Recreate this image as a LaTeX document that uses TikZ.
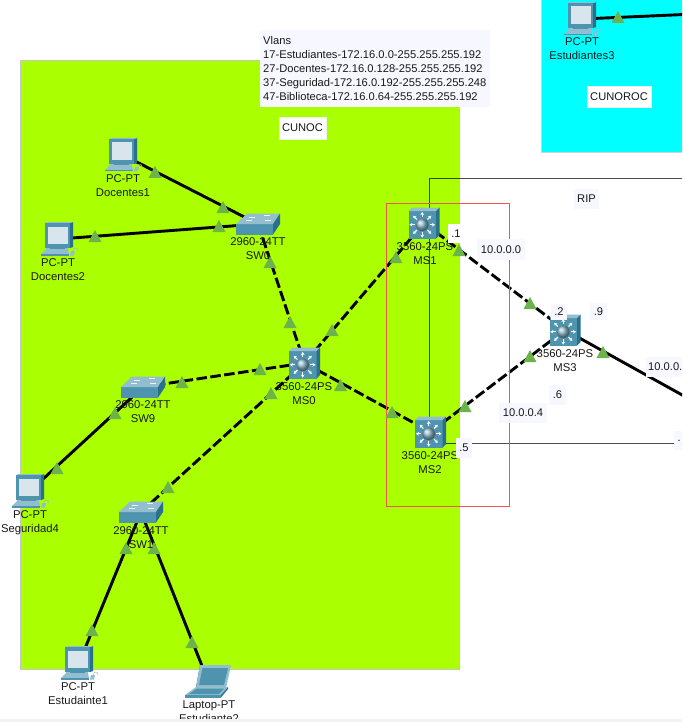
\documentclass[tikz,border=0pt]{standalone}
\usepackage{fontspec}
\setmainfont{Liberation Sans}
\usetikzlibrary{arrows.meta}
\definecolor{zoneg}{HTML}{AAFF00}
\definecolor{zonec}{HTML}{00FFFF}
\definecolor{tagbg}{HTML}{F7F8FF}
\definecolor{lamp}{HTML}{6DB34C}
\definecolor{icoF}{HTML}{4F94AE}
\definecolor{icoT}{HTML}{92BED0}
\definecolor{icoS}{HTML}{2A6F8C}
\definecolor{icoL}{HTML}{D8E5EC}
\definecolor{redbox}{HTML}{F0554E}
\tikzset{
  x=1pt,y=-1pt,
  anchorbox/.style={inner sep=0pt,minimum size=1pt,draw=none},
  lnk/.style={line width=2.9pt,black},
  lnkd/.style={lnk,dash pattern=on 10.5pt off 3.5pt},
  thinl/.style={line width=1pt,black,opacity=.7},
  devlabel/.style={font=\fontsize{11.3}{14}\selectfont,align=center,inner sep=0pt,text=black!90},
  tagbox/.style={fill=tagbg,font=\fontsize{11.15}{14}\selectfont,inner sep=0pt,text=black!90},
  tagwhite/.style={tagbox,fill=white,draw=black!6},
  pcicon/.pic={
    \fill[icoT] (-18,15) -- (-13,10) -- (9,10) -- (10,15) -- cycle;
    \fill[icoF] (-18,15) rectangle (10,16.5);
    \fill[icoT] (-13,8) rectangle (9,12);
    \fill[icoF] (-9,8) rectangle (6,10);
    \fill[icoS] (11,-16) -- (14,-17) -- (14,8) -- (11,9) -- cycle;
    \fill[icoT] (-14,-16) -- (-11,-17) -- (14,-17) -- (11,-16) -- cycle;
    \fill[icoF] (-14,-16) rectangle (11,9);
    \fill[icoL] (-11.5,-12.5) rectangle (8.5,5);
    \fill[icoT] (12,12) -- (16,12) -- (15,16.5) -- (11,16.5) -- cycle;
    \draw[icoT,line width=.5pt] (14,12) .. controls (15,8) and (19,8) .. (19,12);
  },
  lapicon/.pic={
    \fill[icoS] (-12,6) -- (-8,-16) -- (-6,-16) -- (-10,6) -- cycle;
    \fill[icoT] (-8,-16) -- (23,-16) -- (18,7) -- (-12,7) -- cycle;
    \fill[icoF] (-5.5,-13) -- (20,-13) -- (16,4) -- (-9,4) -- cycle;
    \fill[icoT] (-23,14) -- (-12,6) -- (20,6) -- (13,14) -- cycle;
    \fill[icoF] (-19,13) -- (-11,7.5) -- (16,7.5) -- (11,13) -- cycle;
    \fill[icoF] (-23,14) rectangle (13,16.5);
    \fill[icoS] (13,14) -- (20,6) -- (20,8) -- (13,16.5) -- cycle;
  },
  swicon/.pic={
    \fill[icoF] (-22,0) rectangle (15,10.5);
    \fill[icoT] (-22,0) -- (-11,-10.5) -- (22,-10.5) -- (15,0) -- cycle;
    \fill[icoS] (15,0) -- (22,-10.5) -- (22,0) -- (15,10.5) -- cycle;
    \foreach \a/\b in {-9/-7.5,6/-9,-12/-4,7/-4}
      \fill[white,opacity=.85] (\a,\b) rectangle ++(6,1);
  },
  msicon/.pic={
    \fill[icoF] (-15.5,-12) rectangle (12,15.5);
    \fill[icoT] (-15.5,-12) -- (-12,-15.5) -- (15.5,-15.5) -- (12,-12) -- cycle;
    \fill[icoS] (12,-12) -- (15.5,-15.5) -- (15.5,12) -- (12,15.5) -- cycle;
    \foreach \ang in {0,45,...,315}
      \draw[white,line width=1.1pt,-{Stealth[length=3pt,width=3.6pt]},shift={(-1.8,1.8)}] (\ang:7.5) -- (\ang:12.8);
    \shade[ball color=icoT] (-1.8,1.8) circle (6.3);
  },
}
\begin{document}
\begin{tikzpicture}
\useasboundingbox (0,0) rectangle (682,722);
\clip (0,0) rectangle (682,722);
\fill[white] (0,0) rectangle (682,722);

% zones
\draw[fill=zoneg,draw=black!22,line width=1pt] (20.5,60.5) rectangle (459.5,669.5);
\draw[fill=zonec,draw=cyan!40!black!25,line width=1pt] (541.5,-2) rectangle (684,152.5);

% anchors
\node[anchorbox] (d1) at (123,155) {};
\node[anchorbox] (d2) at (59,239) {};
\node[anchorbox] (sw0) at (258,224) {};
\node[anchorbox] (ms0) at (304.5,363) {};
\node[anchorbox] (ms1) at (424,223) {};
\node[anchorbox] (ms2) at (430.5,432) {};
\node[anchorbox] (ms3) at (565,330) {};
\node[anchorbox] (sw9) at (143,387) {};
\node[anchorbox] (sw1) at (141,512) {};
\node[anchorbox] (seg4) at (30,491) {};
\node[anchorbox] (est1) at (79,663) {};
\node[anchorbox] (lap2) at (208,681) {};
\node[anchorbox] (est3) at (582,19) {};
\coordinate (est3end) at (684,14.5);
\coordinate (ms3end) at (684,396);
\coordinate (ringtop) at (429,178.5);
\coordinate (ringend) at (684,178.5);
\coordinate (lowend) at (684,443);

% thin links
\draw[thinl] (ringtop |- ms2) -- (ringtop) -- (ringend);
\draw[thinl] (lowend -| ms2) -- (lowend);

% links
\draw[lnk] (d1) -- (sw0);
\draw[lnk] (d2) -- (sw0);
\draw[lnkd] (sw0) -- (ms0);
\draw[lnkd] (ms0) -- (ms1);
\draw[lnkd] (ms0) -- (ms2);
\draw[lnkd] (ms0) -- (sw9);
\draw[lnkd] (ms0) -- (sw1);
\draw[lnk] (sw9) -- (seg4);
\draw[lnk] (sw1) -- (est1);
\draw[lnk] (sw1) -- (lap2);
\draw[lnkd] (ms1) -- (ms3);
\draw[lnkd] (ms2) -- (ms3);
\draw[lnk] (ms3) -- (ms3end);
\draw[lnk] (est3) -- (est3end);

% red box
\draw[redbox,line width=1pt] (386.5,203.5) rectangle (509.5,506.5);

% link lamps
\foreach \px/\py in {155/172,223/207,219/226,95/236,270/262,290/322,332/330,396/257,459/250,
  530/303,530/356,465/406,392/412,340.5/385,260/369,182/382,271/393,168/487,115/413,57/468,
  126/548,154/548,92/630,192/642,603/352,618/17}
  \fill[lamp] (\px-6.5,\py+6) -- (\px,\py-6) -- (\px+6.5,\py+6) -- cycle;

% icons
\pic at (d1) {pcicon};
\pic at (d2) {pcicon};
\pic at (seg4) {pcicon};
\pic at (est1) {pcicon};
\pic at (est3) {pcicon};
\pic at (lap2) {lapicon};
\pic at (sw0) {swicon};
\pic at (sw9) {swicon};
\pic at (sw1) {swicon};
\pic at (ms0) {msicon};
\pic at (ms1) {msicon};
\pic at (ms2) {msicon};
\pic at (ms3) {msicon};

% device labels
\node[devlabel] (ld1) at (123,186) {PC-PT\\Docentes1};
\node[devlabel] (ld2) at (58,270) {PC-PT\\Docentes2};
\node[devlabel] (lsw0) at (258,249) {2960-24TT\\SW0};
\node[devlabel] (lms0) at (304,394) {3560-24PS\\MS0};
\node[devlabel] (lms1) at (425,254) {3560-24PS\\MS1};
\node[devlabel] (lms2) at (430,463) {3560-24PS\\MS2};
\node[devlabel] (lms3) at (565,361) {3560-24PS\\MS3};
\node[devlabel] (lsw9) at (143,412) {2960-24TT\\SW9};
\node[devlabel] (lsw1) at (141,538) {2960-24TT\\SW1};
\node[devlabel] (lseg) at (30,523) {PC-PT\\Seguridad4};
\node[devlabel] (lest1) at (78,694) {PC-PT\\Estudainte1};
\node[devlabel] (llap) at (209,711.5) {Laptop-PT\\Estudiante2};
\node[devlabel] (lest3) at (582,49) {PC-PT\\Estudiantes3};

% tags
\node[tagbox,minimum width=230,minimum height=77,anchor=north west,align=left,text width=224,inner xsep=3pt,yshift=-1pt] (vlans) at (260,29) {Vlans\\17-Estudiantes-172.16.0.0-255.255.255.192\\27-Docentes-172.16.0.128-255.255.255.192\\37-Seguridad-172.16.0.192-255.255.255.248\\47-Biblioteca-172.16.0.64-255.255.255.192};
\node[tagwhite,minimum width=47,minimum height=22] (cunoc) at (302.5,128) {CUNOC};
\node[tagwhite,minimum width=64,minimum height=21] (cunoroc) at (619,96.5) {CUNOROC};
\node[tagbox,minimum width=25,minimum height=20] (rip) at (586.5,199) {RIP};
\node[tagwhite,draw=none,minimum width=16,minimum height=19] (t1) at (456,233.5) {.1};
\node[tagbox,minimum width=48,minimum height=21] (n0) at (501,249.5) {10.0.0.0};
\node[tagbox,minimum width=16,minimum height=16] (t2) at (559,312) {.2};
\node[tagbox,minimum width=17,minimum height=17] (t9) at (598.5,311.5) {.9};
\node[tagbox,minimum width=38,minimum height=20,anchor=west,align=left,inner xsep=2pt] (n8) at (646,367) {10.0.0.};
\node[tagbox,minimum width=17,minimum height=20] (t6) at (557.5,395) {.6};
\node[tagbox,minimum width=48,minimum height=20] (n4) at (523,413) {10.0.0.4};
\node[tagbox,minimum width=16,minimum height=20] (t5) at (464,448) {.5};
\node[tagbox,minimum width=10,minimum height=19,anchor=west,align=left,inner xsep=3pt] (tr) at (674,440.5) {.};

% bottom strip of the screenshot
\fill[black!5] (0,719) rectangle (682,722);
\end{tikzpicture}
\end{document}
